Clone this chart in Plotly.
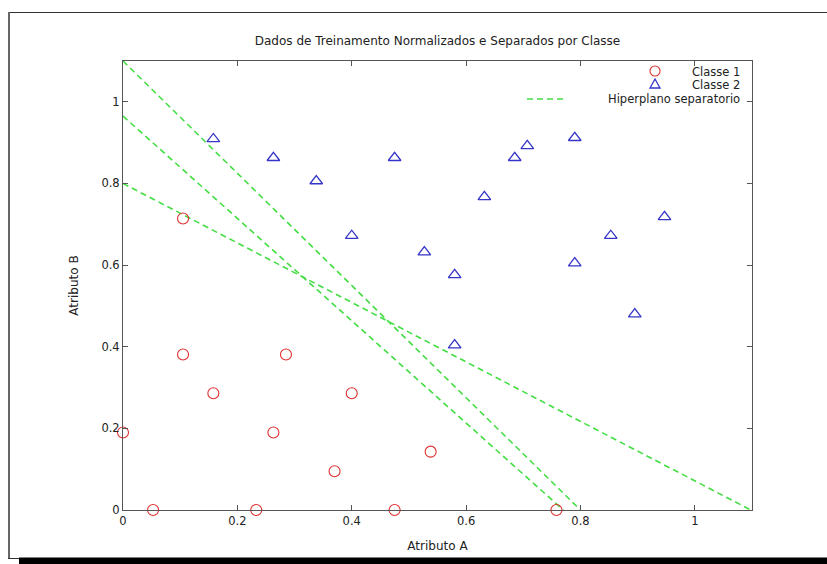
import plotly.graph_objects as go

# ---- data ----
c1_x = [0.0, 0.0526, 0.105, 0.105, 0.158, 0.233, 0.263, 0.285, 0.37, 0.40, 0.475, 0.538, 0.758]
c1_y = [0.19, 0.0, 0.714, 0.381, 0.286, 0.0, 0.19, 0.381, 0.095, 0.286, 0.0, 0.143, 0.0]

c2_x = [0.158, 0.263, 0.338, 0.40, 0.475, 0.527, 0.58, 0.58, 0.632, 0.685, 0.707, 0.79, 0.79, 0.853, 0.895, 0.947]
c2_y = [0.909, 0.863, 0.806, 0.672, 0.863, 0.632, 0.576, 0.404, 0.767, 0.863, 0.892, 0.912, 0.605, 0.672, 0.48, 0.718]

# separating hyperplanes: intercepts on y axis (at x=0) and x axis (at y=0)
hp_y0 = [1.10, 0.965, 0.80]
hp_x0 = [0.80, 0.77, 1.098]

x_ticks = [0, 0.2, 0.4, 0.6, 0.8, 1]
y_ticks = [0, 0.2, 0.4, 0.6, 0.8, 1]
tick_text = ["0", "0.2", "0.4", "0.6", "0.8", "1"]

title = "Dados de Treinamento Normalizados e Separados por Classe"
legend_labels = ["Classe 1", "Classe 2", "Hiperplano separatorio"]

RED = "#e03030"
BLUE = "#3535c8"
GREEN = "#44dd44"
FONT = "DejaVu Sans"

W, H = 827, 564
ML, MR, MT, MB = 123, 75, 61, 54
PW, PH = W - ML - MR, H - MT - MB


def px(x):
    return (x - ML) / PW


def py(y):
    return (H - MB - y) / PH


fig = go.Figure()

for a, b in zip(hp_y0, hp_x0):
    fig.add_trace(go.Scatter(x=[0, b], y=[a, 0], mode="lines",
                             line=dict(color=GREEN, width=1.6, dash="6px,4px"),
                             showlegend=False, hoverinfo="skip"))

fig.add_trace(go.Scatter(x=c1_x, y=c1_y, mode="markers", showlegend=False,
                         marker=dict(symbol="circle-open", size=11, color=RED, line=dict(width=1.1)),
                         cliponaxis=False))
fig.add_trace(go.Scatter(x=c2_x, y=c2_y, mode="markers", showlegend=False,
                         marker=dict(symbol="triangle-up-open", size=11, color=BLUE, line=dict(width=1.3)),
                         cliponaxis=False))

axis_common = dict(showgrid=False, zeroline=False, showline=True, linecolor="#555555",
                   linewidth=1, mirror="ticks", ticks="inside", ticklen=5, tickcolor="#555555",
                   tickfont=dict(family=FONT, size=11.5, color="#222222"))

fig.update_xaxes(range=[0, 1.1], tickvals=x_ticks, ticktext=tick_text,
                 title=dict(text="Atributo A", font=dict(family=FONT, size=12, color="#222222"), standoff=14),
                 **axis_common)
fig.update_yaxes(range=[0, 1.1], tickvals=y_ticks, ticktext=tick_text,
                 title=dict(text="Atributo B", font=dict(family=FONT, size=12, color="#222222"), standoff=20),
                 **axis_common)

shapes = []
annotations = []
# legend
leg_text_x = px(742)
leg_rows = [72, 85, 99]
for lab, yy in zip(legend_labels, leg_rows):
    annotations.append(dict(x=leg_text_x, y=py(yy), xref="paper", yref="paper", text=lab,
                            showarrow=False, xanchor="right", yanchor="middle",
                            font=dict(family=FONT, size=11.5, color="#222222")))
shapes.append(dict(type="circle", xref="paper", yref="paper", xsizemode="pixel", ysizemode="pixel",
                   xanchor=px(655), yanchor=py(71), x0=-5, x1=5, y0=-5, y1=5,
                   line=dict(color=RED, width=1.1)))
shapes.append(dict(type="path", xref="paper", yref="paper", xsizemode="pixel", ysizemode="pixel",
                   xanchor=px(655), yanchor=py(84), path="M -5,-4 L 5,-4 L 0,5 Z",
                   line=dict(color=BLUE, width=1.3)))
shapes.append(dict(type="line", xref="paper", yref="paper", x0=px(527), x1=px(565), y0=py(99), y1=py(99),
                   line=dict(color=GREEN, width=1.6, dash="6px,4px")))

# outer window frame
shapes.append(dict(type="line", xref="paper", yref="paper", x0=px(8), x1=px(827), y0=py(12.5), y1=py(12.5),
                   line=dict(color="#333333", width=1)))
shapes.append(dict(type="line", xref="paper", yref="paper", x0=px(9), x1=px(9), y0=py(12), y1=py(559),
                   line=dict(color="#666666", width=2)))
shapes.append(dict(type="line", xref="paper", yref="paper", x0=px(8), x1=px(20), y0=py(558.5), y1=py(558.5),
                   line=dict(color="#333333", width=1)))
shapes.append(dict(type="rect", xref="paper", yref="paper", x0=px(19), x1=px(827), y0=py(557.5), y1=py(564),
                   line=dict(width=0), fillcolor="#000000"))

fig.update_layout(
    width=W, height=H,
    margin=dict(l=ML, r=MR, t=MT, b=MB),
    paper_bgcolor="white", plot_bgcolor="white",
    title=dict(text=title, x=0.5, xanchor="center", xref="paper", y=1 - 41 / H, yanchor="middle",
               font=dict(family=FONT, size=12, color="#222222")),
    shapes=shapes, annotations=annotations,
    showlegend=False,
)

fig.write_html("out.html")
